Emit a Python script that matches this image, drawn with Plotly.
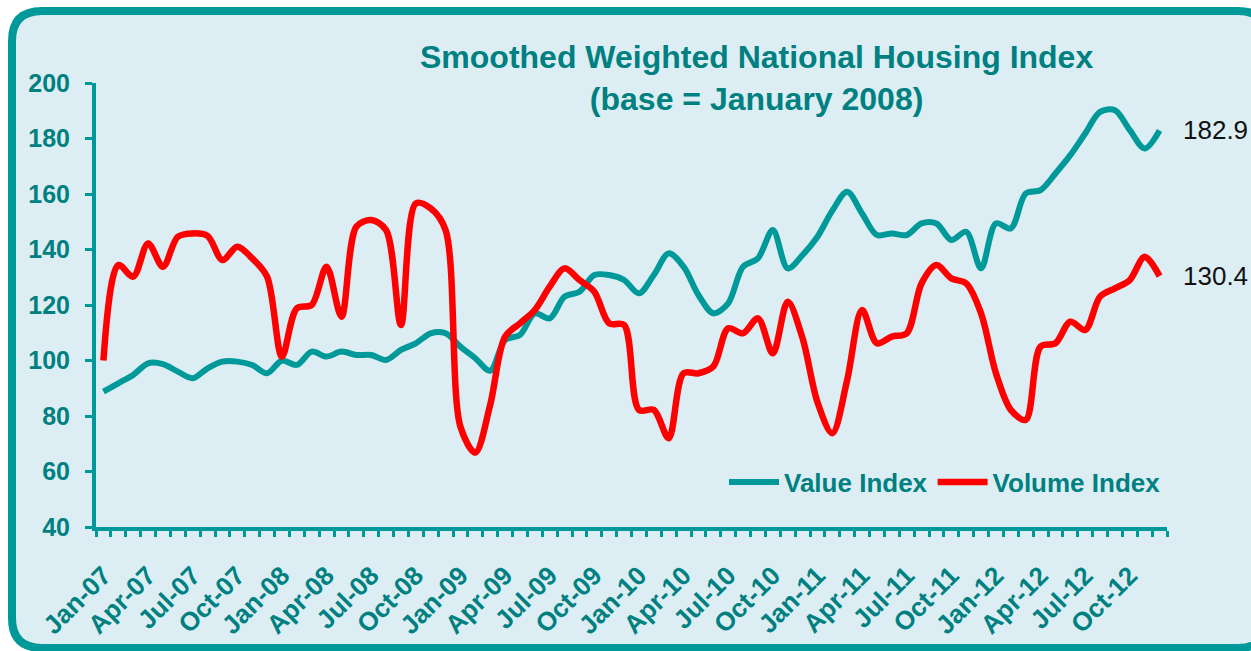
import plotly.graph_objects as go

# ---------------- data ----------------
months = []
for yr in range(7, 13):
    for m in ["Jan", "Feb", "Mar", "Apr", "May", "Jun", "Jul", "Aug", "Sep", "Oct", "Nov", "Dec"]:
        months.append(f"{m}-{yr:02d}")

value_index = [88.8, 91.8, 94.8, 99.0, 98.7, 96.0, 93.6, 97.2, 99.6, 99.6, 98.4, 95.4,
               100.0, 98.4, 103.2, 101.4, 103.2, 102.0, 102.0, 100.2, 103.8, 106.2, 109.8, 109.8,
               105.0, 100.8, 96.3, 107.4, 109.2, 117.0, 115.2, 123.0, 124.8, 130.8, 130.8, 129.0,
               124.2, 130.8, 138.6, 133.8, 123.6, 117.0, 120.6, 133.8, 136.8, 147.0, 133.2, 138.0,
               144.6, 154.0, 160.8, 153.0, 145.2, 145.8, 145.2, 149.4, 149.4, 143.4, 146.4, 133.2,
               149.4, 147.6, 160.2, 161.4, 167.4, 174.0, 181.8, 189.6, 190.2, 183.0, 176.4, 182.9]

volume_index = [100.0, 134.4, 130.2, 142.2, 133.8, 144.6, 145.8, 144.9, 136.2, 141.0, 136.8, 130.2,
                101.4, 118.8, 120.0, 133.8, 115.8, 148.2, 150.6, 147.0, 112.8, 156.6, 154.8, 147.0,
                76.1, 66.8, 84.0, 108.6, 113.4, 118.2, 126.6, 133.2, 129.0, 124.8, 113.4, 112.8,
                82.2, 82.2, 72.0, 95.4, 95.4, 97.8, 111.6, 109.8, 115.2, 102.6, 121.2, 108.0,
                85.0, 73.8, 93.0, 118.2, 106.2, 108.6, 109.8, 127.8, 134.4, 129.6, 127.8, 117.0,
                95.4, 82.2, 78.6, 105.0, 106.2, 114.0, 111.0, 123.0, 126.0, 129.0, 137.4, 130.4]

tick_labels = [m if i % 3 == 0 else "" for i, m in enumerate(months)]
y_ticks = [40, 60, 80, 100, 120, 140, 160, 180, 200]

TEAL = "#009999"
DTEAL = "#008080"
RED = "#FF0000"
BG = "#DCEEF4"
FONT = "Liberation Sans, Arial, sans-serif"

# plot area in pixels
L, R, T, B = 96, 1167, 83, 527
W, H = 1251, 651


def px(x):
    return (x - L) / (R - L)


def py(y):
    return (B - y) / (B - T)


fig = go.Figure()
fig.add_trace(go.Scatter(x=months, y=value_index, name="Value Index", mode="lines",
                         line=dict(color=TEAL, width=6, shape="spline", smoothing=0.9)))
fig.add_trace(go.Scatter(x=months, y=volume_index, name="Volume Index", mode="lines",
                         line=dict(color=RED, width=6.5, shape="spline", smoothing=0.9)))

# rounded border box
x0, x1, y0, y1, r = 12, 1268, 11, 648, 30
path = (f"M {px(x0 + r)} {py(y0)} L {px(x1 - r)} {py(y0)} "
        f"Q {px(x1)} {py(y0)} {px(x1)} {py(y0 + r)} L {px(x1)} {py(y1 - r)} "
        f"Q {px(x1)} {py(y1)} {px(x1 - r)} {py(y1)} L {px(x0 + r)} {py(y1)} "
        f"Q {px(x0)} {py(y1)} {px(x0)} {py(y1 - r)} L {px(x0)} {py(y0 + r)} "
        f"Q {px(x0)} {py(y0)} {px(x0 + r)} {py(y0)} Z")
fig.add_shape(type="path", path=path, xref="paper", yref="paper", layer="below",
              fillcolor=BG, line=dict(color=TEAL, width=8))

# title
fig.add_annotation(text="Smoothed Weighted National Housing Index<br>(base = January 2008)",
                   xref="paper", yref="paper", x=px(756), y=py(78), xanchor="center", yanchor="middle",
                   showarrow=False, font=dict(family=FONT, size=32, color=DTEAL, weight="bold"))

# end labels
fig.add_annotation(text="182.9", xref="paper", yref="y", x=px(1181), y=value_index[-1],
                   xanchor="left", yanchor="middle", showarrow=False,
                   font=dict(family=FONT, size=26, color="#111111"))
fig.add_annotation(text="130.4", xref="paper", yref="y", x=px(1181), y=volume_index[-1],
                   xanchor="left", yanchor="middle", showarrow=False,
                   font=dict(family=FONT, size=26, color="#111111"))

fig.update_layout(
    width=W, height=H, autosize=False,
    margin=dict(l=L, r=W - R, t=T, b=H - B, pad=0),
    paper_bgcolor="white", plot_bgcolor="rgba(0,0,0,0)",
    font=dict(family=FONT, color=DTEAL),
    showlegend=True,
    legend=dict(orientation="h", x=px(1166), xanchor="right", y=py(482), yanchor="middle",
                bgcolor="rgba(0,0,0,0)", font=dict(family=FONT, size=26, color=DTEAL, weight="bold"),
                itemwidth=50, tracegroupgap=0),
    xaxis=dict(type="category", range=[-0.5, len(months) - 0.5], tickmode="array",
               tickvals=months, ticktext=tick_labels, tickangle=-45,
               tickson="boundaries", ticks="outside", ticklen=6, tickwidth=3, tickcolor=TEAL,
               showline=True, linecolor=TEAL, linewidth=4, showgrid=False, zeroline=False,
               ticklabelstandoff=19,
               tickfont=dict(family=FONT, size=26, color=DTEAL, weight="bold")),
    yaxis=dict(range=[40, 200], tickvals=y_ticks, ticks="outside", ticklen=7, tickwidth=3,
               tickcolor=TEAL, showline=True, linecolor=TEAL, linewidth=4, showgrid=False,
               zeroline=False, ticklabelstandoff=10,
               tickfont=dict(family=FONT, size=25, color=DTEAL, weight="bold")),
)

fig.write_html("out.html", config={"displayModeBar": False},
               post_script="document.body.style.margin='0';")
